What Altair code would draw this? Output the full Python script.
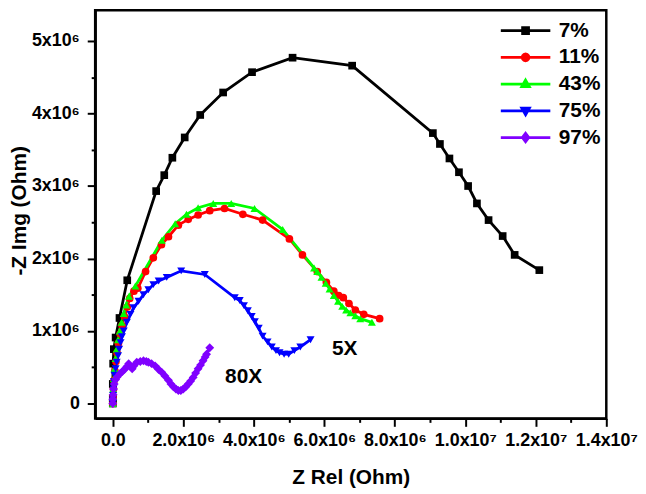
import math
import pandas as pd
import altair as alt

# impedance data, values in units of 1e6 Ohm
series_names = ['7%', '11%', '43%', '75%', '97%']
series_colors = ['#000000', '#ff0000', '#00ff00', '#0000ff', '#8000ff']
marker_shapes = ['square', 'circle', 'triangle-up', 'triangle-down', 'diamond']
marker_sizes = [60, 60, 65, 65, 80]

zrel_7 = [0.0, 0.0, 0.0, 0.01, 0.03, 0.08, 0.19, 0.41, 1.23, 1.46, 1.69, 2.04, 2.48, 3.13, 3.95,
          5.10, 6.79, 9.08, 9.28, 9.55, 9.82, 10.08, 10.33, 10.66, 11.06, 11.40, 12.10]
zimg_7 = [0.0, 0.07, 0.27, 0.55, 0.75, 0.91, 1.18, 1.70, 2.93, 3.15, 3.39, 3.67, 3.98, 4.29, 4.57,
          4.77, 4.66, 3.73, 3.58, 3.38, 3.19, 3.00, 2.76, 2.53, 2.31, 2.05, 1.84]

zrel_11 = [0.0, 0.01, 0.02, 0.04, 0.06, 0.09, 0.12, 0.16, 0.21, 0.26, 0.33, 0.41, 0.48, 0.60, 0.71,
           0.93, 1.15, 1.38, 1.58, 1.86, 2.14, 2.42, 2.75, 3.17, 3.69, 4.25, 5.01, 5.38, 5.80,
           6.06, 6.27, 6.41, 6.54, 6.70, 6.88, 7.12, 7.57]
zimg_11 = [0.0, 0.10, 0.20, 0.32, 0.45, 0.58, 0.70, 0.83, 0.96, 1.08, 1.20, 1.33, 1.45, 1.55, 1.59,
           1.82, 2.01, 2.19, 2.30, 2.46, 2.54, 2.60, 2.66, 2.69, 2.61, 2.53, 2.27, 2.05, 1.82,
           1.67, 1.55, 1.49, 1.46, 1.38, 1.29, 1.23, 1.17]

zrel_43 = [0.0, 0.0, 0.01, 0.03, 0.05, 0.08, 0.11, 0.15, 0.20, 0.25, 0.31, 0.38, 0.46, 0.64, 1.39,
           1.77, 2.09, 2.42, 2.85, 3.36, 4.02, 4.82, 5.71, 5.80, 5.92, 6.04, 6.15, 6.27, 6.39,
           6.51, 6.62, 6.74, 6.88, 7.02, 7.35]
zimg_43 = [0.0, 0.10, 0.20, 0.34, 0.48, 0.62, 0.75, 0.88, 1.00, 1.12, 1.24, 1.36, 1.48, 1.62, 2.25,
           2.48, 2.61, 2.70, 2.76, 2.76, 2.69, 2.40, 1.87, 1.82, 1.74, 1.66, 1.58, 1.49, 1.41,
           1.34, 1.29, 1.25, 1.21, 1.17, 1.12]

zrel_75 = [0.0, 0.0, 0.01, 0.02, 0.03, 0.05, 0.08, 0.11, 0.15, 0.18, 0.22, 0.26, 0.31, 0.40, 0.50,
           0.59, 0.73, 0.87, 1.01, 1.15, 1.30, 1.53, 1.94, 2.61, 3.46, 3.60, 3.72, 3.83, 3.94,
           4.03, 4.14, 4.25, 4.39, 4.51, 4.63, 4.73, 4.86, 4.99, 5.15, 5.32, 5.61]
zimg_75 = [0.0, 0.05, 0.11, 0.20, 0.30, 0.39, 0.48, 0.57, 0.66, 0.75, 0.84, 0.92, 1.00, 1.12, 1.23,
           1.32, 1.41, 1.50, 1.57, 1.64, 1.69, 1.74, 1.83, 1.78, 1.46, 1.42, 1.35, 1.28, 1.20,
           1.13, 1.04, 0.93, 0.85, 0.78, 0.73, 0.70, 0.68, 0.68, 0.73, 0.78, 0.88]

zrel_97 = [0.0, 0.0, 0.01, 0.02, 0.04, 0.08, 0.13, 0.20, 0.27, 0.33, 0.40, 0.45, 0.50, 0.55, 0.60,
           0.68, 0.78, 0.87, 0.95, 1.01, 1.10, 1.20, 1.30, 1.39, 1.48, 1.58, 1.65, 1.72, 1.79,
           1.86, 1.93, 2.00, 2.07, 2.14, 2.21, 2.28, 2.35, 2.42, 2.49, 2.56, 2.62, 2.66, 2.75]
zimg_97 = [0.0, 0.06, 0.12, 0.20, 0.27, 0.33, 0.37, 0.41, 0.44, 0.47, 0.51, 0.55, 0.51, 0.48, 0.52,
           0.57, 0.58, 0.59, 0.58, 0.57, 0.55, 0.52, 0.47, 0.43, 0.38, 0.32, 0.27, 0.23, 0.20,
           0.18, 0.18, 0.20, 0.23, 0.27, 0.31, 0.36, 0.42, 0.48, 0.53, 0.59, 0.64, 0.68, 0.77]

note_text = ['80X', '5X']
note_zrel = [3.71, 6.58]
note_zimg = [0.36, 0.75]

x_ticks = list(range(0, 15))
y_ticks = [i / 2 for i in range(0, 11)]

all_rel = [zrel_7, zrel_11, zrel_43, zrel_75, zrel_97]
all_img = [zimg_7, zimg_11, zimg_43, zimg_75, zimg_97]
rows = []
for name, xs, ys in zip(series_names, all_rel, all_img):
    for i, (a, b) in enumerate(zip(xs, ys)):
        rows.append({'series': name, 'idx': i, 'zrel': a, 'zimg': b})
df = pd.DataFrame(rows)
notes = pd.DataFrame({'zrel': note_zrel, 'zimg': note_zimg, 'txt': note_text})


# legend symbols: a short line with a marker in the middle; the marker is drawn as
# nested outlines so that the stroke fills it in
def poly(pts, k):
    return 'M' + 'L'.join(f'{a * k:.3f},{b * k:.3f}' for a, b in pts) + 'Z'


def nested(pts):
    return ''.join(poly(pts, k) for k in (1.0, 0.6, 0.25))


sq = [(-0.3, -0.3), (0.3, -0.3), (0.3, 0.3), (-0.3, 0.3)]
circ = [(0.34 * math.cos(math.pi * j / 6), 0.34 * math.sin(math.pi * j / 6)) for j in range(12)]
tri_up = [(0, -0.4), (0.38, 0.26), (-0.38, 0.26)]
tri_dn = [(0, 0.4), (0.38, -0.26), (-0.38, -0.26)]
diam = [(0, -0.42), (0.32, 0), (0, 0.42), (-0.32, 0)]

seg = 'M-2.5,0L2.5,0'
legend_paths = [seg + nested(p) for p in (sq, circ, tri_up, tri_dn, diam)]

FONT = 'Liberation Sans'

x_enc = alt.X('zrel:Q', title='Z Rel (Ohm)',
              scale=alt.Scale(domain=[-0.5, 14], nice=False, zero=False),
              axis=alt.Axis(values=x_ticks, grid=False, labelOverlap=False, labelFlush=False,
                            labelExpr="datum.value == 0 ? '0.0' : datum.value % 2 != 0 ? '' : "
                                      "datum.value < 10 ? format(datum.value, '.1f') + 'x10⁶' : "
                                      "format(datum.value / 10, '.1f') + 'x10⁷'",
                            tickSize={'condition': {'test': 'datum.value % 2 == 0', 'value': 8},
                                      'value': 4},
                            labelPadding=5, titleY=66, titleBaseline='alphabetic'))
y_enc = alt.Y('zimg:Q', title='-Z Img (Ohm)',
              scale=alt.Scale(domain=[-0.205, 5.424], nice=False, zero=False),
              axis=alt.Axis(values=y_ticks, grid=False, labelOverlap=False, labelFlush=False,
                            labelExpr="datum.value == 0 ? '0' : datum.value % 1 != 0 ? '' : "
                                      "format(datum.value, 'd') + 'x10⁶'",
                            tickSize={'condition': {'test': 'datum.value % 1 == 0', 'value': 8},
                                      'value': 4},
                            labelPadding=8, titleX=-76, titleY=202, titleBaseline='middle'))

color_scale = alt.Scale(domain=series_names, range=series_colors)
key_legend = alt.Legend(title=None, orient='none', legendX=423, legendY=9, padding=0,
                        symbolSize=400, symbolStrokeWidth=2.8, labelFontSize=21,
                        labelFontWeight='bold', labelFont=FONT, labelOffset=22, rowPadding=5)

lines = alt.Chart(df).mark_line(strokeWidth=2.8).encode(
    x=x_enc, y=y_enc,
    color=alt.Color('series:N', scale=color_scale, legend=key_legend),
    order='idx:Q',
)

# one marker layer per series so each keeps its own symbol
marker_layers = []
for name, col, shp, sz in zip(series_names, series_colors, marker_shapes, marker_sizes):
    marker_layers.append(
        alt.Chart(df).transform_filter(alt.datum.series == name).mark_point(
            filled=True, opacity=1, size=sz, shape=shp, color=col
        ).encode(x=x_enc, y=y_enc)
    )

# draws nothing, only feeds the legend its line+marker symbols
key = alt.Chart(df).transform_filter('false').mark_point(
    filled=False, opacity=1, size=400, strokeWidth=2.8
).encode(
    x=x_enc, y=y_enc,
    color=alt.Color('series:N', scale=color_scale, legend=key_legend),
    shape=alt.Shape('series:N', scale=alt.Scale(domain=series_names, range=legend_paths),
                    legend=key_legend),
)

labels = alt.Chart(notes).mark_text(fontSize=21, fontWeight='bold', font=FONT, color='black').encode(
    x=x_enc, y=y_enc, text='txt:N'
)

chart = alt.layer(lines, *marker_layers, key, labels).properties(
    width=516, height=412,
    autosize=alt.AutoSizeParams(type='none'),
    padding={'left': 88, 'top': 0, 'right': 32, 'bottom': 70},
).configure(
    font=FONT,
).configure_view(
    stroke='black', strokeWidth=2.5,
).configure_axis(
    domainColor='black', domainWidth=2.5, tickColor='black', tickWidth=2,
    labelFont=FONT, labelFontSize=18, labelFontWeight='bold', labelColor='black',
    titleFont=FONT, titleFontSize=21, titleFontWeight='bold', titleColor='black',
)

chart.save('out.html', embed_options={'renderer': 'svg', 'actions': False})
